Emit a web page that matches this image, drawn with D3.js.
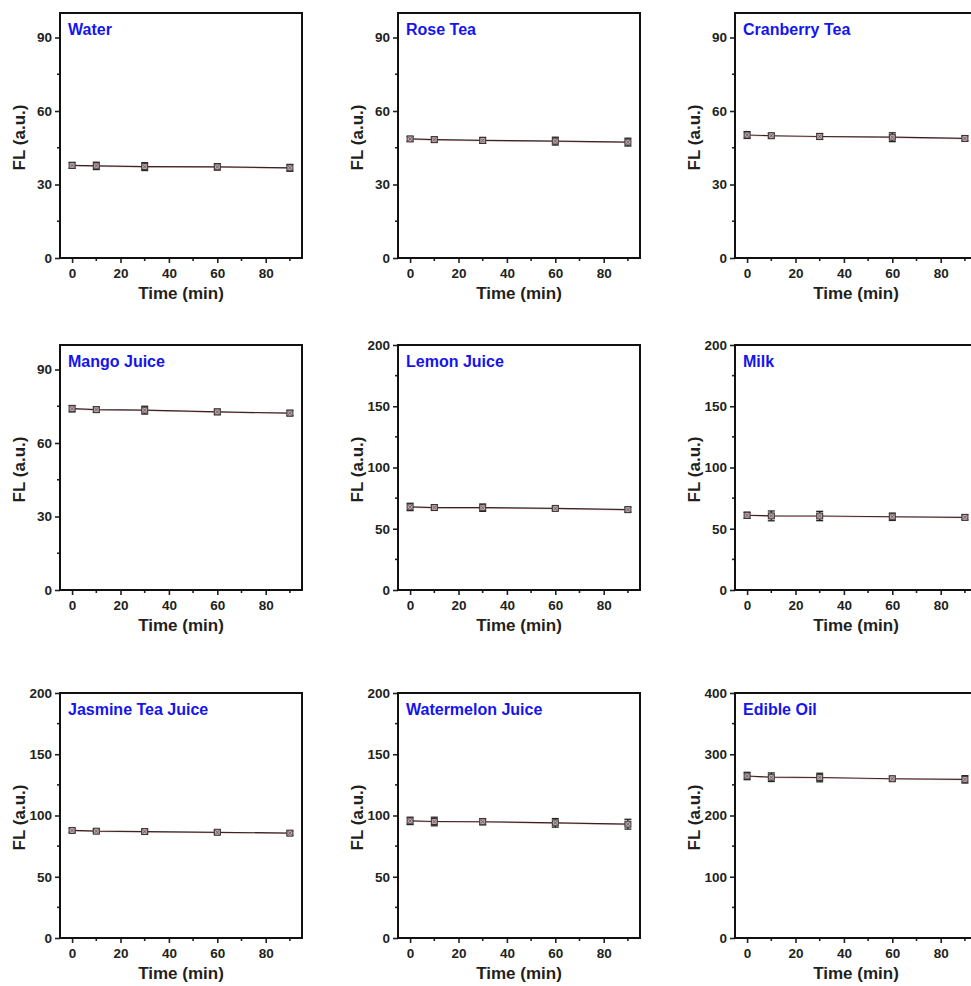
<!DOCTYPE html>
<html>
<head>
<meta charset="utf-8">
<script src="https://cdn.jsdelivr.net/npm/d3@7"></script>
<style>
  body { margin: 0; background: #fff; overflow: hidden; }
  svg text { font-family: "Liberation Sans", Arial, sans-serif; font-weight: bold; }
</style>
</head>
<body>
<div id="chart"></div>
<script>
// --- Data ---
const times = [0, 10, 30, 60, 90];

const titles = [
  "Water", "Rose Tea", "Cranberry Tea",
  "Mango Juice", "Lemon Juice", "Milk",
  "Jasmine Tea Juice", "Watermelon Juice", "Edible Oil"
];

const yMaxes = [100, 100, 100, 100, 200, 200, 200, 200, 400];
const yMajorTicks = [
  [0, 30, 60, 90], [0, 30, 60, 90], [0, 30, 60, 90],
  [0, 30, 60, 90], [0, 50, 100, 150, 200], [0, 50, 100, 150, 200],
  [0, 50, 100, 150, 200], [0, 50, 100, 150, 200], [0, 100, 200, 300, 400]
];
const yMinorTicks = [
  [15, 45, 75], [15, 45, 75], [15, 45, 75],
  [15, 45, 75], [25, 75, 125, 175], [25, 75, 125, 175],
  [25, 75, 125, 175], [25, 75, 125, 175], [50, 150, 250, 350]
];
const xMajorTicks = [0, 20, 40, 60, 80];
const xMinorTicks = [10, 30, 50, 70, 90];

// FL readings per sample
const water      = [37.8, 37.6, 37.3, 37.2, 36.8];
const roseTea    = [48.6, 48.3, 48.0, 47.7, 47.3];
const cranberry  = [50.2, 49.9, 49.6, 49.3, 48.8];
const mango      = [74.0, 73.6, 73.4, 72.7, 72.2];
const lemon      = [67.8, 67.3, 67.2, 66.6, 65.6];
const milk       = [61.0, 60.5, 60.4, 59.8, 59.3];
const jasmine    = [87.8, 87.2, 86.9, 86.3, 85.6];
const watermelon = [95.6, 95.1, 94.9, 94.0, 92.9];
const edibleOil  = [264.5, 262.5, 262.0, 260.0, 259.0];

// error bar half-widths
const waterErr      = [1.2, 1.5, 1.6, 1.3, 1.4];
const roseTeaErr    = [1.0, 1.1, 1.2, 1.6, 1.6];
const cranberryErr  = [1.4, 1.0, 1.2, 1.8, 1.0];
const mangoErr      = [1.3, 1.1, 1.6, 1.1, 1.1];
const lemonErr      = [3.0, 2.2, 3.0, 1.5, 2.0];
const milkErr       = [2.5, 4.0, 3.8, 3.0, 2.0];
const jasmineErr    = [1.6, 1.5, 1.5, 1.6, 1.6];
const watermelonErr = [3.0, 3.5, 2.5, 3.5, 4.0];
const edibleOilErr  = [6.0, 7.0, 7.0, 4.0, 6.0];

const seriesValues = [water, roseTea, cranberry, mango, lemon, milk, jasmine, watermelon, edibleOil];
const seriesErrors = [waterErr, roseTeaErr, cranberryErr, mangoErr, lemonErr, milkErr, jasmineErr, watermelonErr, edibleOilErr];

// --- Layout ---
const W = 971, H = 986;
const colLeft = [60, 398, 735];
const rowTop = [13, 345, 693];
const panelW = 242, panelH = 245;

const svg = d3.select("#chart").append("svg")
  .attr("width", W)
  .attr("height", H);

function drawPanel(i) {
  const left = colLeft[i % 3];
  const top = rowTop[Math.floor(i / 3)];
  const g = svg.append("g").attr("transform", `translate(${left},${top})`);

  const x = d3.scaleLinear().domain([-5, 95]).range([0, panelW]);
  const y = d3.scaleLinear().domain([0, yMaxes[i]]).range([panelH, 0]);

  // y axis major + minor
  const yAxis = g.append("g")
    .call(d3.axisLeft(y).tickValues(yMajorTicks[i]).tickSize(5).tickPadding(3).tickFormat(d3.format("d")));
  yAxis.append("g").selectAll("line")
    .data(yMinorTicks[i]).join("line")
    .attr("x1", 0).attr("x2", -3)
    .attr("y1", d => y(d)).attr("y2", d => y(d));

  // x axis major + minor
  const xAxis = g.append("g")
    .attr("transform", `translate(0,${panelH})`)
    .call(d3.axisBottom(x).tickValues(xMajorTicks).tickSize(5).tickPadding(5).tickFormat(d3.format("d")));
  xAxis.append("g").selectAll("line")
    .data(xMinorTicks).join("line")
    .attr("y1", 0).attr("y2", 3)
    .attr("x1", d => x(d)).attr("x2", d => x(d));

  [yAxis, xAxis].forEach(ax => {
    ax.select(".domain").remove();
    ax.selectAll("line").attr("stroke", "#222").attr("stroke-width", 1.6);
    ax.selectAll("text").attr("fill", "#231f20").style("font-size", "13.5px");
  });

  // frame
  g.append("rect")
    .attr("width", panelW).attr("height", panelH)
    .attr("fill", "none").attr("stroke", "#111").attr("stroke-width", 2);

  // title
  g.append("text")
    .attr("x", 8).attr("y", 22)
    .attr("fill", "#1414f0")
    .style("font-size", "16px")
    .text(titles[i]);

  // axis labels
  g.append("text")
    .attr("transform", `translate(-35,${panelH / 2 + 2}) rotate(-90)`)
    .attr("text-anchor", "middle")
    .attr("fill", "#231f20")
    .style("font-size", "17px")
    .text("FL (a.u.)");

  g.append("text")
    .attr("x", panelW / 2).attr("y", panelH + 41)
    .attr("text-anchor", "middle")
    .attr("fill", "#231f20")
    .style("font-size", "17px")
    .text("Time (min)");

  const pts = times.map((t, k) => ({ t, v: seriesValues[i][k], e: seriesErrors[i][k] }));

  // line
  g.append("path")
    .datum(pts)
    .attr("fill", "none")
    .attr("stroke", "#1e1e1e")
    .attr("stroke-width", 1.2)
    .attr("d", d3.line().x(d => x(d.t)).y(d => y(d.v)));
  g.append("path")
    .datum(pts)
    .attr("fill", "none")
    .attr("stroke", "#c04040")
    .attr("stroke-opacity", 0.35)
    .attr("stroke-width", 1)
    .attr("d", d3.line().x(d => x(d.t)).y(d => y(d.v) + 0.5));

  // error bars
  const eb = g.append("g").attr("stroke", "#222").attr("stroke-width", 1.3);
  eb.selectAll(".v").data(pts).join("line")
    .attr("x1", d => x(d.t)).attr("x2", d => x(d.t))
    .attr("y1", d => y(d.v - d.e)).attr("y2", d => y(d.v + d.e));
  eb.selectAll(".capTop").data(pts).join("line")
    .attr("x1", d => x(d.t) - 3.5).attr("x2", d => x(d.t) + 3.5)
    .attr("y1", d => y(d.v + d.e)).attr("y2", d => y(d.v + d.e));
  eb.selectAll(".capBot").data(pts).join("line")
    .attr("x1", d => x(d.t) - 3.5).attr("x2", d => x(d.t) + 3.5)
    .attr("y1", d => y(d.v - d.e)).attr("y2", d => y(d.v - d.e));

  // markers
  const mk = g.append("g");
  mk.selectAll("rect").data(pts).join("rect")
    .attr("x", d => x(d.t) - 3).attr("y", d => y(d.v) - 3)
    .attr("width", 6).attr("height", 6)
    .attr("fill", "#bfa6ad")
    .attr("stroke", "#333")
    .attr("stroke-width", 1);
  mk.selectAll("path").data(pts).join("path")
    .attr("d", d => {
      const cx = x(d.t), cy = y(d.v);
      return `M${cx - 2},${cy - 2}L${cx + 2},${cy + 2}M${cx + 2},${cy - 2}L${cx - 2},${cy + 2}`;
    })
    .attr("stroke", "#5a4a4e")
    .attr("stroke-width", 0.7);
}

titles.forEach((t, i) => drawPanel(i));
</script>
</body>
</html>
